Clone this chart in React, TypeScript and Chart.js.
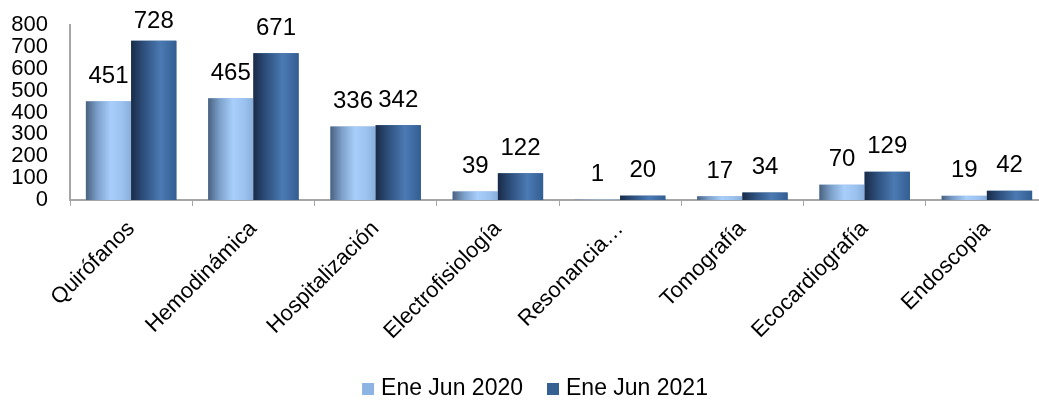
import React, { useEffect, useRef } from "react";
import { Chart, registerables } from "chart.js";

Chart.register(...registerables);

const categories = ["Quirófanos", "Hemodinámica", "Hospitalización", "Electrofisiología", "Resonancia…", "Tomografía", "Ecocardiografía", "Endoscopia"];
const series2020 = [451, 465, 336, 39, 1, 17, 70, 19];
const series2021 = [728, 671, 342, 122, 20, 34, 129, 42];
const seriesNames = ["Ene Jun 2020", "Ene Jun 2021"];
const seriesColors = ["#8db3e2", "#366092"];
const yTicks = [0, 100, 200, 300, 400, 500, 600, 700, 800];

const FONT = "'Liberation Sans', Arial, sans-serif";

const gradientStops: [number, string][][] = [
  [[0, "#4a6180"], [0.25, "#7b9fc8"], [0.55, "#a8cffb"], [0.8, "#9cc2f0"], [1, "#88aedb"]],
  [[0, "#1a2b48"], [0.3, "#2f5280"], [0.65, "#4b7ab3"], [1, "#335e92"]],
];

const barPlugin = {
  id: "gradBars",
  afterDatasetsDraw(chart: any) {
    const ctx = chart.ctx;
    chart.data.datasets.forEach((ds: any, di: number) => {
      const meta = chart.getDatasetMeta(di);
      meta.data.forEach((el: any) => {
        const { x, y, base, width } = el.getProps(["x", "y", "base", "width"], true);
        const left = x - width / 2;
        const g = ctx.createLinearGradient(left, 0, left + width, 0);
        gradientStops[di].forEach(([o, c]) => g.addColorStop(o, c));
        ctx.save();
        ctx.fillStyle = g;
        ctx.fillRect(left, Math.min(y, base), width, Math.abs(base - y));
        ctx.restore();
      });
    });
    ctx.save();
    ctx.font = `24px ${FONT}`;
    ctx.fillStyle = "#000";
    ctx.textAlign = "center";
    ctx.textBaseline = "middle";
    const minY = chart.chartArea.top - 4;
    chart.data.datasets.forEach((ds: any, di: number) => {
      const meta = chart.getDatasetMeta(di);
      meta.data.forEach((el: any, i: number) => {
        const { x, y } = el.getProps(["x", "y"], true);
        ctx.fillText(String(ds.data[i]), x, Math.max(y - 25, minY));
      });
    });
    ctx.restore();
  },
  afterDraw(chart: any) {
    const ctx = chart.ctx;
    ctx.save();
    ctx.font = `23px ${FONT}`;
    ctx.textBaseline = "middle";
    ctx.textAlign = "left";
    const box = 12, gapText = 7, gapItem = 24;
    const widths = seriesNames.map((n) => ctx.measureText(n).width);
    const total = widths.reduce((a, w) => a + box + gapText + w, 0) + gapItem * (seriesNames.length - 1);
    const cx = 535;
    let x = cx - total / 2;
    const yc = 389;
    seriesNames.forEach((n, i) => {
      ctx.fillStyle = seriesColors[i];
      ctx.fillRect(x, yc - 6, box, box);
      x += box + gapText;
      ctx.fillStyle = "#000";
      ctx.fillText(n, x, yc);
      x += widths[i] + gapItem;
    });
    ctx.restore();
  },
};

export default function App() {
  const ref = useRef<HTMLCanvasElement>(null);
  useEffect(() => {
    if (!ref.current) return;
    const chart = new Chart(ref.current, {
      type: "bar",
      data: {
        labels: categories,
        datasets: [
          { label: seriesNames[0], data: series2020, backgroundColor: seriesColors[0], categoryPercentage: 0.74, barPercentage: 1.0 },
          { label: seriesNames[1], data: series2021, backgroundColor: seriesColors[1], categoryPercentage: 0.74, barPercentage: 1.0 },
        ],
      },
      options: {
        responsive: false,
        animation: false,
        layout: { padding: { left: 10, right: 2, top: 25, bottom: 40 } },
        plugins: {
          tooltip: { enabled: false },
          legend: { display: false },
        },
        scales: {
          x: {
            grid: { display: true, drawOnChartArea: false, drawTicks: true, tickLength: 6, color: "#a6a6a6", offset: true },
            border: { display: true, color: "#a6a6a6", width: 2 },
            ticks: { color: "#000", font: { family: FONT, size: 22 }, maxRotation: 45, minRotation: 45, autoSkip: false, padding: 10 },
            afterFit: (s: any) => { s.height = 162; s.paddingLeft = 0; s.paddingRight = 0; },
          },
          y: {
            min: 0,
            max: 800,
            afterBuildTicks: (s: any) => { s.ticks = yTicks.map((v) => ({ value: v })); },
            grid: { display: false, drawTicks: false },
            border: { display: true, color: "#a6a6a6", width: 2 },
            ticks: { color: "#000", font: { family: FONT, size: 22 }, padding: 22, autoSkip: false },
            afterFit: (s: any) => { s.width = 60; s.paddingTop = 0; s.paddingBottom = 0; },
          },
        },
      },
      plugins: [barPlugin],
    });
    return () => chart.destroy();
  }, []);
  return (
    <div style={{ position: "absolute", left: 0, top: 0, width: 1039, height: 402, overflow: "hidden", background: "#fff" }}>
      <canvas ref={ref} width={1050} height={402} style={{ display: "block" }} />
    </div>
  );
}
